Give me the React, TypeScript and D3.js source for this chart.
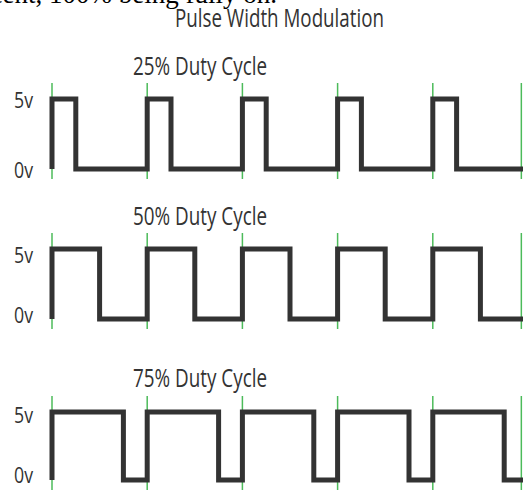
import React from "react";
import * as d3 from "d3";

const titles = ["25% Duty Cycle", "50% Duty Cycle", "75% Duty Cycle"];
const dutyCycles = [0.25, 0.5, 0.75];
const periodStarts = [0, 1, 2, 3, 4];
const markerTimes = [0, 1, 2, 3, 4, 4.93];
const endTime = 4.93;
const levelValues = [5, 0];
const levelLabels = ["5v", "0v"];
const mainTitle = "Pulse Width Modulation";
const caption = "Duty cycle is expressed in percent, 100% being fully on.";

const W = 523;
const H = 491;
const highY = [99, 249, 412];
const lowY = [169, 319, 480];
const titleY = [75, 225, 387];
const label5Y = [108, 263, 423];
const label0Y = [178, 323, 483];

const x = d3.scaleLinear().domain([0, 5]).range([52, 528]);

function wavePoints(d: number): [number, number][] {
  const pts: [number, number][] = [[0, 0]];
  periodStarts.forEach((t) => {
    pts.push([t, 0], [t, 5], [t + d, 5], [t + d, 0]);
  });
  pts.push([endTime + 0.02, 0]);
  return pts;
}

export default function App() {
  const font = "'Open Sans', 'Noto Sans', sans-serif";
  return (
    <svg
      width={W}
      height={H}
      style={{ position: "absolute", left: 0, top: 0, background: "#fff" }}
    >
      <rect width={W} height={H} fill="#fff" />
      <text
        x={277}
        y={3}
        textAnchor="end"
        fontFamily="'Liberation Serif', serif"
        fontSize={27}
        fill="#000"
      >
        {caption}
      </text>
      <text
        x={175}
        y={27}
        textLength={209}
        lengthAdjust="spacingAndGlyphs"
        fontFamily={font}
        fontSize={25}
        fill="#333"
      >
        {mainTitle}
      </text>
      {titles.map((title, i) => {
        const y = d3.scaleLinear().domain([0, 5]).range([lowY[i], highY[i]]);
        const line = d3
          .line<[number, number]>()
          .x((p) => x(p[0]))
          .y((p) => y(p[1]));
        return (
          <g key={title}>
            <text
              x={133}
              y={titleY[i]}
              textLength={134}
              lengthAdjust="spacingAndGlyphs"
              fontFamily={font}
              fontSize={25}
              fill="#333"
            >
              {title}
            </text>
            {levelLabels.map((lab, j) => (
              <text
                key={lab}
                x={14}
                y={j === 0 ? label5Y[i] : label0Y[i]}
                textLength={19}
                lengthAdjust="spacingAndGlyphs"
                fontFamily={font}
                fontSize={22}
                fill="#333"
              >
                {lab}
              </text>
            ))}
            {markerTimes.map((t) => (
              <line
                key={t}
                x1={Math.min(x(t), W - 1.5)}
                x2={Math.min(x(t), W - 1.5)}
                y1={y(levelValues[0]) - 16}
                y2={y(levelValues[1]) + 10}
                stroke="#4cbb5a"
                strokeWidth={1.5}
              />
            ))}
            <path
              d={line(wavePoints(dutyCycles[i])) || ""}
              fill="none"
              stroke="#333"
              strokeWidth={5}
              strokeLinejoin="miter"
            />
          </g>
        );
      })}
    </svg>
  );
}
